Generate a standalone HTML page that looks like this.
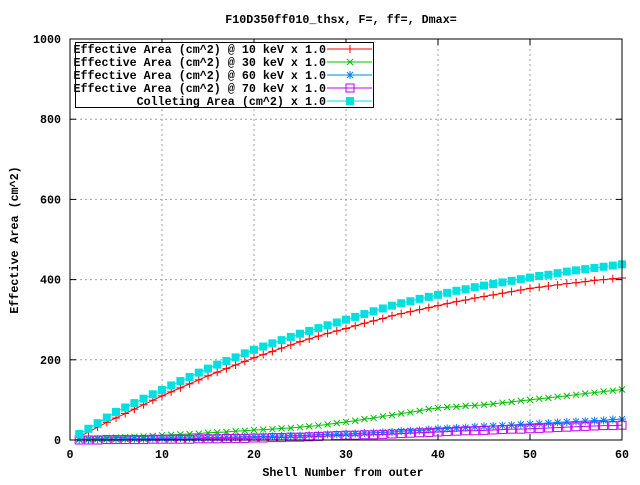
<!DOCTYPE html>
<html><head><meta charset="utf-8"><style>
body{margin:0;background:#fff}
svg text{font-family:"Liberation Mono",monospace;font-size:11.7px;font-weight:bold;fill:#000}
</style></head><body>
<svg id="c" width="640" height="480"></svg>
<script>
const xTicks=[0,10,20,30,40,50,60];
const yTicks=[0,200,400,600,800,1000];
const shells=Array.from({length:60},(_,i)=>i+1);
const red=[8,20,32,44,55,66,77,88,99,110,120,130,140,150,160,169,178,187,196,205,213,221,229,237,245,252,259,266,272,278,285,291,297,303,310,315,320,325,330,335,340,345,349,354,358,362,366,370,374,378,381,384,387,390,392,395,398,400,402,404];
const cyan=[15,28,42,56,70,81,92,103,114,125,136,147,157,168,178,188,197,206,216,225,233,241,249,257,265,272,279,286,293,300,307,314,321,328,335,341,346,352,357,362,367,372,376,381,385,389,393,397,401,405,409,412,416,420,423,426,429,432,435,438];
const green=[2,3,4,5,6,7,8,9,10,12,13,14,15,16,18,19,20,22,23,25,26,27,29,30,32,34,36,39,42,45,48,52,55,59,62,66,69,73,77,80,82,83,85,86,88,90,93,95,98,100,103,105,108,110,113,116,118,121,123,126];
const blue=[1,1,2,2,2,3,3,3,4,4,4,5,5,5,6,6,7,7,8,8,9,9,10,11,11,12,13,14,14,15,16,17,18,19,20,22,23,24,26,28,29,30,31,33,34,35,36,37,39,40,41,42,44,45,46,47,48,49,51,52];
const purple=[0,0,0,1,1,1,1,1,2,2,2,2,2,3,3,3,4,4,4,5,5,6,6,7,7,8,9,10,11,12,12,13,13,14,15,16,17,18,19,20,21,22,23,23,24,25,26,27,27,28,29,30,31,32,33,34,35,36,36,37];
const legendLabels=["Effective Area (cm^2) @ 10 keV x 1.0","Effective Area (cm^2) @ 30 keV x 1.0","Effective Area (cm^2) @ 60 keV x 1.0","Effective Area (cm^2) @ 70 keV x 1.0","Colleting Area (cm^2)  x 1.0"];

const L=70,R=622,T=39,B=440;
const X=v=>L+(v-0)/(60-0)*(R-L);
const Y=v=>B-(v/1000)*(B-T);
const svg=document.getElementById('c');
const NS='http://www.w3.org/2000/svg';
function el(tag,attrs,parent){const e=document.createElementNS(NS,tag);for(const k in attrs)e.setAttribute(k,attrs[k]);(parent||svg).appendChild(e);return e;}
function txt(s,x,y,anchor){const t=el('text',{x:x,y:y,'text-anchor':anchor||'middle'});t.textContent=s;return t;}

xTicks.forEach(v=>{if(v>0&&v<60){const g=el('line',{x1:X(v),x2:X(v),y1:T,y2:B,stroke:'#a0a0a0','stroke-dasharray':'2,3'});

}
el('line',{x1:X(v),x2:X(v),y1:B,y2:B-6,stroke:'#000'});el('line',{x1:X(v),x2:X(v),y1:T,y2:T+6,stroke:'#000'});
const t=txt(String(v),X(v),458);

});
yTicks.forEach(v=>{if(v>0&&v<1000){const g=el('line',{x1:L,x2:R,y1:Y(v),y2:Y(v),stroke:'#a0a0a0','stroke-dasharray':'2,3'});

}
el('line',{x1:L,x2:L+6,y1:Y(v),y2:Y(v),stroke:'#000'});el('line',{x1:R,x2:R-6,y1:Y(v),y2:Y(v),stroke:'#000'});
const t=txt(String(v),61,Y(v)+4,'end');

});

function marker(type,x,y,c,g){
 const s=4;
 if(type==='plus'){el('path',{d:`M${x-s} ${y}H${x+s}M${x} ${y-s}V${y+s}`,stroke:c,fill:'none'},g);}
 else if(type==='x'){el('path',{d:`M${x-3} ${y-3}L${x+3} ${y+3}M${x-3} ${y+3}L${x+3} ${y-3}`,stroke:c,fill:'none'},g);}
 else if(type==='star'){el('path',{d:`M${x-s} ${y}H${x+s}M${x} ${y-s}V${y+s}M${x-3} ${y-3}L${x+3} ${y+3}M${x-3} ${y+3}L${x+3} ${y-3}`,stroke:c,fill:'none'},g);}
 else if(type==='box'){el('rect',{x:x-s,y:y-s,width:2*s,height:2*s,stroke:c,fill:'none'},g);}
 else if(type==='fbox'){el('rect',{x:x-s,y:y-s,width:2*s,height:2*s,fill:c},g);}
}
const series=[[red,'#ff0000','plus','series-10kev'],[green,'#00c000','x','series-30kev'],[blue,'#0080ff','star','series-60kev'],[purple,'#c000ff','box','series-70kev'],[cyan,'#00e0e0','fbox','series-collecting-area']];
series.forEach(([d,c,m,n])=>{
 const g=el('g',{});
 
 
 el('polyline',{points:d.map((v,i)=>X(shells[i])+','+Y(v)).join(' '),fill:'none',stroke:c},g);
 d.forEach((v,i)=>marker(m,X(shells[i]),Y(v),c,g));
});

const f=el('rect',{x:L,y:T,width:R-L,height:B-T,fill:'none',stroke:'#000'});



const lg=el('g',{});


el('rect',{x:75.5,y:42.5,width:298,height:65,fill:'#fff',stroke:'#000'},lg);
legendLabels.forEach((s,i)=>{
 const y=49+i*13;
 const t=el('text',{x:326,y:y+4,'text-anchor':'end'},lg);t.textContent=s;
 
 
 const [d,c,m]=series[i];
 el('line',{x1:327,x2:372,y1:y,y2:y,stroke:c},lg);
 marker(m,350,y,c,lg);
});

const tt=txt('F10D350ff010_thsx, F=, ff=, Dmax=',341,23);


const xl=txt('Shell Number from outer',343,476);


const yl=txt('Effective Area (cm^2)',0,0);
yl.setAttribute('transform','translate(18,240) rotate(-90)');


</script>
</body></html>
